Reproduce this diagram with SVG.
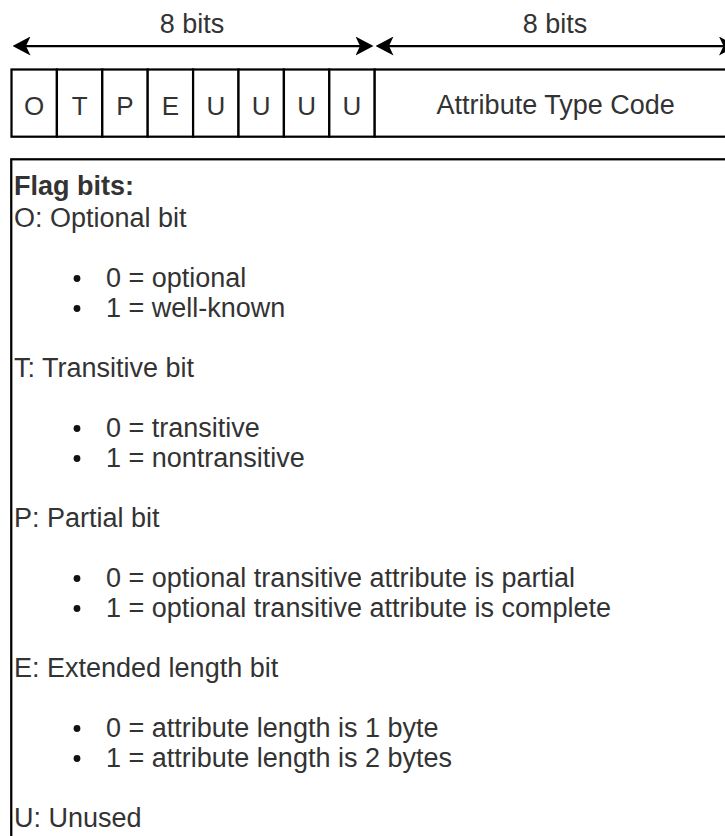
<svg xmlns="http://www.w3.org/2000/svg" width="725" height="836" viewBox="0 0 725 836">
  <style>
    .box { fill: #ffffff; stroke: #000000; stroke-width: 2.25; }
    .conn { fill: none; stroke: #000000; stroke-width: 2.25; }
    .lbl { font-family: "Liberation Sans", Arial, sans-serif; font-size: 27px; fill: #333333; }
    .cell { font-family: "Liberation Sans", Arial, sans-serif; font-size: 26px; fill: #333333; text-anchor: middle; }
    .mid { text-anchor: middle; }
    .bold { font-weight: bold; }
    .dot { fill: #111111; }
  </style>
  <defs>
    <marker id="arrow" viewBox="0 0 18 19" refX="5" refY="9.5" markerWidth="18" markerHeight="19" markerUnits="userSpaceOnUse" orient="auto-start-reverse">
      <path d="M18,9.5 L0,0 L4.5,9.5 L0,19 Z" fill="#000000"/>
    </marker>
  </defs>

  <!-- width indicators -->
  <g id="connectors">
    <path class="conn" d="M25.5,46 H360.5" marker-start="url(#arrow)" marker-end="url(#arrow)"/>
    <path class="conn" d="M388.5,46 H724" marker-start="url(#arrow)" marker-end="url(#arrow)"/>
  </g>
  <g id="label-flags-width">
    <text class="lbl mid" x="192" y="33">8 bits</text>
  </g>
  <g id="label-code-width">
    <text class="lbl mid" x="555" y="33">8 bits</text>
  </g>

  <!-- flag bit cells -->
  <g id="cell-O"><rect class="box" x="11.5" y="69.5" width="45.4" height="67.2"/><text class="cell" x="34.2" y="115">O</text></g>
  <g id="cell-T"><rect class="box" x="56.9" y="69.5" width="45.4" height="67.2"/><text class="cell" x="79.6" y="115">T</text></g>
  <g id="cell-P"><rect class="box" x="102.3" y="69.5" width="45.4" height="67.2"/><text class="cell" x="125" y="115">P</text></g>
  <g id="cell-E"><rect class="box" x="147.7" y="69.5" width="45.4" height="67.2"/><text class="cell" x="170.4" y="115">E</text></g>
  <g id="cell-U1"><rect class="box" x="193.1" y="69.5" width="45.4" height="67.2"/><text class="cell" x="215.8" y="115">U</text></g>
  <g id="cell-U2"><rect class="box" x="238.5" y="69.5" width="45.4" height="67.2"/><text class="cell" x="261.2" y="115">U</text></g>
  <g id="cell-U3"><rect class="box" x="283.9" y="69.5" width="45.4" height="67.2"/><text class="cell" x="306.6" y="115">U</text></g>
  <g id="cell-U4"><rect class="box" x="329.3" y="69.5" width="45.4" height="67.2"/><text class="cell" x="352" y="115">U</text></g>

  <!-- attribute type code field -->
  <g id="type-code">
    <rect class="box" x="374.7" y="69.5" width="362" height="67.2"/>
    <text class="lbl mid" x="555.7" y="114">Attribute Type Code</text>
  </g>

  <!-- legend -->
  <g id="legend">
    <rect class="box" x="11.25" y="159.3" width="730" height="700"/>
    <text class="lbl bold" x="14" y="195">Flag bits:</text>

    <text class="lbl" x="14" y="227">O: Optional bit</text>
    <circle class="dot" cx="77" cy="278.5" r="3.4"/>
    <text class="lbl" x="106" y="287">0 = optional</text>
    <circle class="dot" cx="77" cy="308.5" r="3.4"/>
    <text class="lbl" x="106" y="317">1 = well-known</text>

    <text class="lbl" x="14" y="377">T: Transitive bit</text>
    <circle class="dot" cx="77" cy="428.5" r="3.4"/>
    <text class="lbl" x="106" y="437">0 = transitive</text>
    <circle class="dot" cx="77" cy="458.5" r="3.4"/>
    <text class="lbl" x="106" y="467">1 = nontransitive</text>

    <text class="lbl" x="14" y="527">P: Partial bit</text>
    <circle class="dot" cx="77" cy="578.5" r="3.4"/>
    <text class="lbl" x="106" y="587">0 = optional transitive attribute is partial</text>
    <circle class="dot" cx="77" cy="608.5" r="3.4"/>
    <text class="lbl" x="106" y="617">1 = optional transitive attribute is complete</text>

    <text class="lbl" x="14" y="677">E: Extended length bit</text>
    <circle class="dot" cx="77" cy="728.5" r="3.4"/>
    <text class="lbl" x="106" y="737">0 = attribute length is 1 byte</text>
    <circle class="dot" cx="77" cy="758.5" r="3.4"/>
    <text class="lbl" x="106" y="767">1 = attribute length is 2 bytes</text>

    <text class="lbl" x="14" y="827">U: Unused</text>
  </g>
</svg>
